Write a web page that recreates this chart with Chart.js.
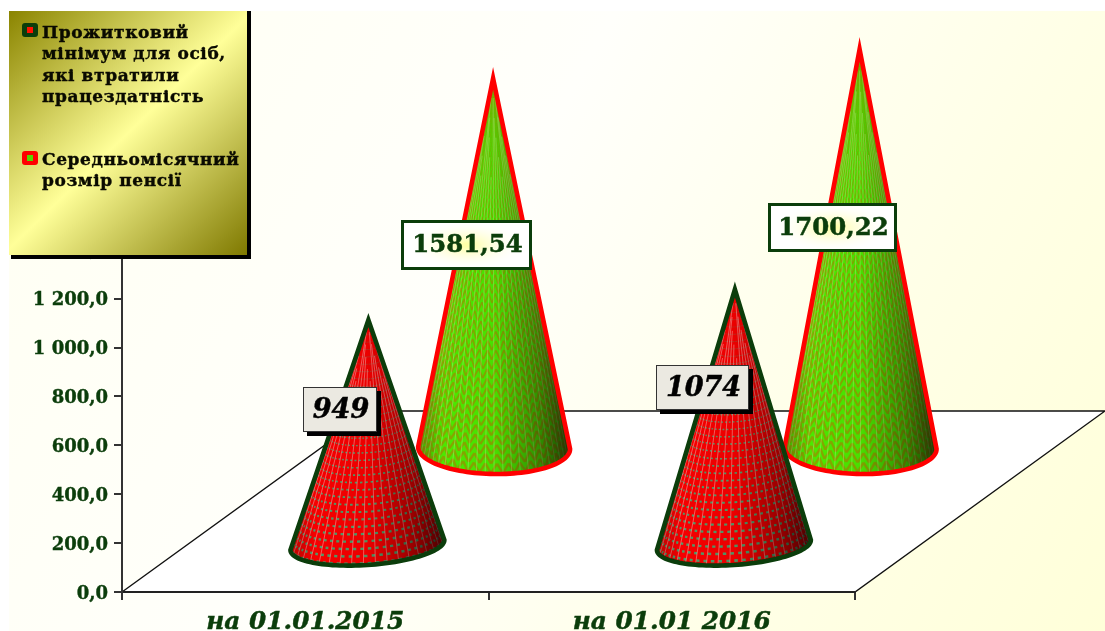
<!DOCTYPE html>
<html>
<head>
<meta charset="utf-8">
<style>html,body{margin:0;padding:0;background:#fff}#wrap{position:absolute;left:0;top:0;width:1105px;height:631px}</style>
<script src="https://cdn.jsdelivr.net/npm/chart.js@4"></script>
</head>
<body>
<div id="wrap"><canvas id="c" width="1105" height="631"></canvas></div>
<script>
const categories = ["на 01.01.2015", "на 01.01 2016"];
const subsistenceValues = [949, 1074];
const pensionValues = [1581.54, 1700.22];
const subsistenceName = ["Прожитковий", "мінімум для осіб,", "які втратили", "працездатність"];
const pensionName = ["Середньомісячний", "розмір пенсії"];
const valueLabels = [["949", "1074"], ["1581,54", "1700,22"]];

const DARK = "#0b3d0b";
const depthX = 250, depthY = 181;
const seriesStyle = [
  {depth: 45, stroke: DARK, dl: 4, dr: -6, h: 20, base: "#f40000", kind: "dots", tip: 5, ax: 1, cx: 0, aAdj: 0, cols: 60},
  {depth: 136, stroke: "#ff0000", dl: -8, dr: -6, h: 26, base: "#4ce800", kind: "chevron", tip: 9, ax: 0, cx: 1, aAdj: -1, cols: 80}
];
// label box placement relative to the cone apex / mid height
const labelBoxes = [
  [{dx: -65, dy: -46, w: 74, h: 45, font: "italic bold 27px 'DejaVu Serif'"},
   {dx: -79, dy: -53, w: 93, h: 45, font: "italic bold 27px 'DejaVu Serif'"}],
  [{dx: -92, dy: -47, w: 131, h: 50, font: "bold 24.4px 'DejaVu Serif'"},
   {dx: -92, dy: -49, w: 129, h: 49, font: "bold 24.4px 'DejaVu Serif'"}]
];

function coneGeom(el, st) {
  const sx = st.depth * depthX / depthY;
  const ax = el.x + sx + st.ax, ay = el.y - st.depth + st.tip;
  const cx = el.x + sx + st.cx, by = el.base - st.depth;
  const a = el.width / 2 + st.aAdj;
  const ly = by + st.dl, ry = by + st.dr;
  const baseY = u => (ly + ry) / 2 + (ry - ly) / 2 * u + st.h * Math.sqrt(Math.max(0, 1 - u * u));
  const P = (u, t) => ({x: ax + t * (cx - ax + a * u), y: ay + t * (baseY(u) - ay)});
  return {ax, ay, cx, by, a, P, H: by - ay};
}
function conePath(ctx, g) {
  ctx.beginPath();
  ctx.moveTo(g.ax, g.ay);
  for (let i = 0; i <= 60; i++) {
    const u = -Math.cos(Math.PI * i / 60);
    const p = g.P(u, 1);
    ctx.lineTo(p.x, p.y);
  }
  ctx.closePath();
}
function seg(ctx, a, b) { ctx.moveTo(a.x, a.y); ctx.lineTo(b.x, b.y); }
// staggered start so the fine ribs fade in towards the apex without a visible band
function ribStart(i) { return 0.05 + 0.25 * ((i * 7) % 5) / 5; }

function drawCone(ctx, el, st) {
  const g = coneGeom(el, st);
  ctx.save();
  conePath(ctx, g);
  ctx.save();
  ctx.clip();
  ctx.fillStyle = st.base;
  ctx.fillRect(g.cx - g.a - 5, g.ay - 5, g.a * 2 + 10, g.H + 40);
  const cols = st.cols;
  const us = [];
  for (let i = 0; i <= cols; i++) us.push(-Math.cos(Math.PI * i / cols));
  if (st.kind === "dots") {
    const step = 6.8 / g.H;
    let row = 0;
    ctx.strokeStyle = "#4f9a68";
    ctx.lineCap = "butt";
    for (let t = 0.03; t < 1.08; t += step, row++) {
      ctx.lineWidth = Math.max(0.5, 2.6 * t);
      ctx.beginPath();
      for (let i = row % 2; i < cols; i += 2) {
        const u0 = us[i] + (us[i + 1] - us[i]) * 0.1, u1 = us[i] + (us[i + 1] - us[i]);
        seg(ctx, g.P(u0, t), g.P(u1, t));
      }
      ctx.stroke();
    }
    ctx.strokeStyle = "rgba(255,205,205,.5)";
    ctx.lineWidth = 0.9;
    ctx.beginPath();
    for (let i = 2; i < cols; i += 3) seg(ctx, g.P(us[i], ribStart(i)), g.P(us[i], 1.05));
    ctx.stroke();
  } else {
    const step = 9 / g.H;
    ctx.strokeStyle = "#86a800";
    ctx.lineJoin = "miter";
    for (let t = 0.03; t < 1.08; t += step) {
      ctx.lineWidth = Math.max(0.4, 2.5 * t);
      ctx.beginPath();
      for (let i = 0; i < cols; i++) {
        const flip = (Math.floor(i / 2) % 2 === 0);
        const up = i % 2 === 0;
        const t0 = t + (up ? 0 : -step * 0.5) * (flip ? 1 : -1);
        const t1 = t + (up ? -step * 0.5 : 0) * (flip ? 1 : -1);
        seg(ctx, g.P(us[i], t0), g.P(us[i + 1], t1));
      }
      ctx.stroke();
    }
    ctx.strokeStyle = "rgba(215,255,175,.35)";
    ctx.lineWidth = 0.9;
    ctx.beginPath();
    for (let i = 1; i < cols; i += 3) seg(ctx, g.P(us[i], ribStart(i)), g.P(us[i], 1.05));
    ctx.stroke();
  }
  const sh = ctx.createLinearGradient(g.cx - g.a, 0, g.cx + g.a, 0);
  sh.addColorStop(0, "rgba(40,20,0,.28)");
  sh.addColorStop(0.16, "rgba(0,0,0,0)");
  sh.addColorStop(0.5, "rgba(0,0,0,.04)");
  sh.addColorStop(0.8, "rgba(0,0,0,.38)");
  sh.addColorStop(1, "rgba(0,0,0,.7)");
  ctx.fillStyle = sh;
  ctx.fillRect(g.cx - g.a - 5, g.ay - 5, g.a * 2 + 10, g.H + 40);
  ctx.restore();
  conePath(ctx, g);
  ctx.strokeStyle = st.stroke;
  ctx.lineWidth = 4.6;
  ctx.lineJoin = "miter";
  ctx.miterLimit = 6;
  ctx.stroke();
  ctx.restore();
}

function drawValueLabel(ctx, el, ds, idx) {
  const st = seriesStyle[ds], b = labelBoxes[ds][idx];
  const g = coneGeom(el, st);
  const x = Math.round(g.ax + b.dx), y = Math.round((g.ay + g.by) / 2 + b.dy);
  ctx.save();
  if (ds === 0) {
    ctx.fillStyle = "#000";
    ctx.fillRect(x + 4, y + 4, b.w, b.h);
    ctx.fillStyle = "#ebe9e1";
    ctx.fillRect(x, y, b.w, b.h);
    ctx.strokeStyle = "#333";
    ctx.lineWidth = 1;
    ctx.strokeRect(x + .5, y + .5, b.w - 1, b.h - 1);
    ctx.fillStyle = "#000";
  } else {
    ctx.fillStyle = "#ffffff";
    ctx.fillRect(x, y, b.w, b.h);
    const cx = x + b.w / 2, cy = y + b.h / 2;
    ctx.save();
    ctx.translate(cx, cy);
    ctx.scale(1, 0.42);
    const gl = ctx.createRadialGradient(0, 0, 4, 0, 0, b.w * 0.46);
    gl.addColorStop(0, "rgba(255,255,170,1)");
    gl.addColorStop(1, "rgba(255,255,255,0)");
    ctx.fillStyle = gl;
    ctx.fillRect(-b.w / 2, -b.h * 1.2, b.w, b.h * 2.4);
    ctx.restore();
    ctx.strokeStyle = DARK;
    ctx.lineWidth = 3;
    ctx.strokeRect(x + 1.5, y + 1.5, b.w - 3, b.h - 3);
    ctx.fillStyle = DARK;
  }
  ctx.font = b.font;
  ctx.textAlign = "center";
  ctx.textBaseline = "middle";
  ctx.strokeStyle = ctx.fillStyle;
  ctx.lineWidth = 0.5;
  ctx.strokeText(valueLabels[ds][idx], x + b.w / 2 + 1, y + b.h / 2 + 1);
  ctx.fillText(valueLabels[ds][idx], x + b.w / 2 + 1, y + b.h / 2 + 1);
  ctx.restore();
}

function drawLegend(ctx) {
  const x = 9, y = 11, w = 238, h = 244;
  ctx.save();
  ctx.fillStyle = "#000";
  ctx.fillRect(x + 2, y, w + 2, h + 4);
  const gr = ctx.createLinearGradient(x, y, x + w, y + h);
  gr.addColorStop(0, "#8a8400");
  gr.addColorStop(0.5, "#ffff99");
  gr.addColorStop(1, "#7f7900");
  ctx.fillStyle = gr;
  ctx.fillRect(x, y, w, h);
  const marker = (yy, outer, inner) => {
    ctx.fillStyle = outer;
    ctx.beginPath();
    ctx.roundRect(22, yy, 16, 14, 3);
    ctx.fill();
    ctx.fillStyle = inner;
    ctx.fillRect(27, yy + 4, 6, 6);
  };
  marker(23, DARK, "#ff1000");
  marker(151, "#ff0000", "#55d800");
  ctx.fillStyle = "#0a0a00";
  ctx.strokeStyle = "#0a0a00";
  ctx.lineWidth = 0.4;
  ctx.font = "bold 17px 'DejaVu Serif'";
  ctx.textBaseline = "alphabetic";
  ctx.textAlign = "left";
  try { ctx.letterSpacing = "0.6px"; } catch (e) {}
  const put = (s, yy) => { ctx.strokeText(s, 42, yy); ctx.fillText(s, 42, yy); };
  subsistenceName.forEach((s, i) => put(s, 38 + i * 21.3));
  pensionName.forEach((s, i) => put(s, 165 + i * 21.3));
  ctx.restore();
}

let labelsShifted = false;
const conePlugin = {
  id: "cones",
  beforeDraw(chart) {
    const ctx = chart.ctx, ca = chart.chartArea;
    if (!labelsShifted) {
      labelsShifted = true;
      chart.scales.y.getLabelItems().forEach(it => { it.options.translation[1] += 2; });
    }
    ctx.save();
    ctx.fillStyle = "#fff";
    ctx.fillRect(0, 0, chart.width, chart.height);
    const gr = ctx.createLinearGradient(9, 11, chart.width, chart.height);
    gr.addColorStop(0, "#fffff2");
    gr.addColorStop(0.42, "#fffffb");
    gr.addColorStop(0.75, "#ffffe6");
    gr.addColorStop(1, "#ffffd9");
    ctx.fillStyle = gr;
    ctx.fillRect(9, 11, chart.width - 9, chart.height - 11);
    ctx.beginPath();
    ctx.moveTo(ca.left, ca.bottom);
    ctx.lineTo(ca.left + depthX, ca.bottom - depthY);
    ctx.lineTo(ca.right + depthX, ca.bottom - depthY);
    ctx.lineTo(ca.right, ca.bottom);
    ctx.closePath();
    ctx.fillStyle = "#fff";
    ctx.fill();
    ctx.strokeStyle = "#111";
    ctx.lineWidth = 1.4;
    ctx.stroke();
    ctx.restore();
  },
  beforeDatasetDraw(chart, args) {
    const meta = chart.getDatasetMeta(args.index);
    meta.data.forEach(el => drawCone(chart.ctx, el, seriesStyle[args.index]));
    return false;
  },
  afterDatasetsDraw(chart) {
    [1, 0].forEach(ds => chart.getDatasetMeta(ds).data.forEach((el, i) => drawValueLabel(chart.ctx, el, ds, i)));
  },
  afterDraw(chart) { drawLegend(chart.ctx); }
};

new Chart(document.getElementById("c"), {
  type: "bar",
  plugins: [conePlugin],
  data: {
    labels: categories,
    datasets: [
      {label: subsistenceName.join(" "), data: subsistenceValues, backgroundColor: "#f40000", grouped: false, barPercentage: 0.42, categoryPercentage: 1},
      {label: pensionName.join(" "), data: pensionValues, backgroundColor: "#4ce800", grouped: false, barPercentage: 0.42, categoryPercentage: 1}
    ]
  },
  options: {
    responsive: false,
    animation: false,
    events: [],
    layout: {padding: {left: 0, right: 250, top: 152, bottom: 0}},
    plugins: {legend: {display: false}, tooltip: {enabled: false}, title: {display: false}},
    scales: {
      x: {
        afterFit(s) { s.height = 39; },
        grid: {drawOnChartArea: false, color: "#333", lineWidth: 2, tickLength: 8, offset: true},
        border: {color: "#222", width: 2},
        ticks: {color: DARK, textStrokeColor: DARK, textStrokeWidth: 0.5, font: {family: "'DejaVu Serif'", size: 24.8, weight: "bold", style: "italic"}, padding: 8, maxRotation: 0, autoSkip: false}
      },
      y: {
        min: 0, max: 1800,
        afterFit(s) { s.width = 122; },
        grid: {drawOnChartArea: false, color: "#333", lineWidth: 2, tickLength: 8},
        border: {color: "#333", width: 2},
        ticks: {
          stepSize: 200, color: DARK, padding: 6, textStrokeColor: DARK, textStrokeWidth: 0.4,
          font: {family: "'DejaVu Serif'", size: 18, weight: "bold"},
          callback(v) {
            const s = v.toFixed(1).replace(".", ",");
            return v >= 1000 ? s[0] + " " + s.slice(1) : s;
          }
        }
      }
    }
  }
});
</script>
</body>
</html>
